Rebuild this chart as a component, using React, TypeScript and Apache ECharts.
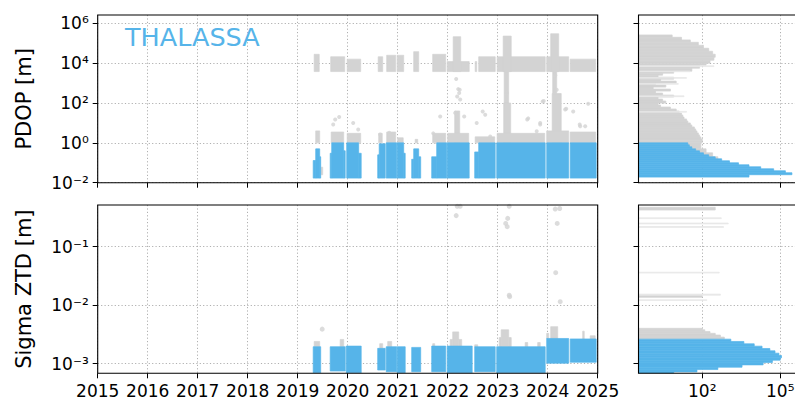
import React, { useEffect, useRef } from "react";
import * as echarts from "echarts";

const BLUE = "#56B4E9";
const GRAY = "#D3D3D3";
const LIGHT = "#E8E8E8";
const FONT = "DejaVu Sans";

// ---------- data ----------
const yearTicks = [2015, 2016, 2017, 2018, 2019, 2020, 2021, 2022, 2023, 2024, 2025];
const pdopTickExps = [-2, 0, 2, 4, 6];
const ztdTickExps = [-3, -2, -1];
const countTickExps = [2, 5];

// PDOP bands: [startYear, endYear, low, high]
const pdopBlueBands = [
  [2019.31, 2019.36, 0.017, 0.13], [2019.36, 2019.44, 0.017, 0.5], [2019.44, 2019.46, 0.017, 0.2],
  [2019.65, 2019.68, 0.017, 0.3], [2019.68, 2019.92, 0.017, 1.0], [2019.92, 2019.95, 0.017, 0.4],
  [2019.98, 2020.22, 0.017, 1.0], [2020.22, 2020.27, 0.017, 0.3],
  [2020.60, 2020.63, 0.017, 0.25], [2020.63, 2020.75, 0.017, 0.9],
  [2020.77, 2020.98, 0.017, 1.0],
  [2020.99, 2021.12, 0.017, 1.0], [2021.12, 2021.15, 0.017, 0.3],
  [2021.28, 2021.32, 0.017, 0.15], [2021.32, 2021.42, 0.017, 0.5], [2021.42, 2021.46, 0.017, 0.2],
  [2021.68, 2021.78, 0.017, 0.2], [2021.78, 2021.98, 0.017, 1.0],
  [2021.99, 2022.43, 0.017, 1.0],
  [2022.54, 2022.62, 0.017, 0.35], [2022.62, 2022.95, 0.017, 1.0],
  [2022.98, 2023.95, 0.017, 1.0],
  [2023.98, 2024.42, 0.017, 1.0],
  [2024.45, 2024.97, 0.017, 1.0],
];
const pdopGrayBands = [
  [2019.33, 2019.43, 3800, 28000], [2019.66, 2019.94, 3800, 21000], [2019.99, 2020.26, 3800, 16000],
  [2020.61, 2020.70, 3800, 21000], [2020.78, 2020.96, 3800, 25000], [2020.99, 2021.12, 3800, 25000],
  [2021.32, 2021.42, 3800, 38000], [2021.70, 2021.96, 3800, 28000], [2021.99, 2022.43, 3800, 12000],
  [2022.11, 2022.26, 3800, 214000], [2022.55, 2022.58, 3800, 12000], [2022.62, 2022.95, 3800, 21000],
  [2022.99, 2023.95, 3800, 21000], [2023.11, 2023.27, 3800, 230000], [2023.98, 2024.42, 3800, 21000],
  [2024.06, 2024.22, 3800, 300000], [2024.45, 2024.96, 3800, 16000],
  [2023.13, 2023.22, 100, 3800], [2023.12, 2023.26, 1, 100],
  [2024.10, 2024.18, 300, 3800], [2024.09, 2024.27, 1, 300],
  [2022.14, 2022.24, 1, 40],
  [2019.36, 2019.44, 1, 4], [2019.67, 2019.92, 1, 3.5], [2019.99, 2020.26, 1, 3],
  [2020.62, 2020.69, 1, 3], [2020.78, 2020.96, 1, 3.5], [2021.0, 2021.11, 1, 1.8],
  [2021.35, 2021.4, 1, 1.5], [2021.70, 2021.96, 1, 3], [2022.0, 2022.42, 1, 3],
  [2022.55, 2022.94, 1, 2], [2022.99, 2023.94, 1, 3], [2023.98, 2024.42, 1, 4],
  [2024.45, 2024.96, 1, 3.5], [2019.47, 2019.50, 0.025, 0.06],
];
// PDOP scattered outliers: [year, value]
const pdopGrayPoints = [
  [2019.71, 8.3], [2019.75, 14.8], [2019.83, 20], [2020.11, 10], [2020.21, 4.7], [2020.65, 2.6],
  [2020.83, 3.2], [2021.85, 21], [2021.71, 3], [2022.21, 500], [2022.23, 316], [2022.17, 1600],
  [2022.25, 150], [2022.15, 32], [2022.33, 21], [2022.75, 26], [2022.58, 10], [2022.85, 2.1],
  [2023.18, 316], [2023.61, 17], [2023.85, 10], [2023.90, 120], [2024.15, 2500], [2024.18, 470],
  [2024.37, 52], [2024.65, 6.8], [2024.81, 93], [2023.78, 3.8], [2022.70, 38], [2023.59, 15],
  [2023.92, 126], [2023.85, 8.3], [2024.35, 47], [2024.51, 38], [2024.75, 6.8], [2024.64, 8.3],
  [2022.24, 470], [2022.19, 214],
];

// Sigma ZTD bands: [startYear, endYear, low, high]
const ztdBlueBands = [
  [2019.31, 2019.46, 7.0e-4, 1.95e-3], [2019.65, 2019.95, 7.5e-4, 1.95e-3], [2019.97, 2020.27, 7.0e-4, 2.0e-3],
  [2020.60, 2020.75, 7.8e-4, 1.83e-3], [2020.77, 2020.98, 7.3e-4, 1.95e-3], [2020.99, 2021.15, 7.0e-4, 1.95e-3],
  [2021.28, 2021.46, 7.3e-4, 1.9e-3], [2021.68, 2021.96, 7.3e-4, 2.0e-3], [2021.99, 2022.49, 7.0e-4, 2.0e-3],
  [2022.54, 2022.95, 7.3e-4, 1.95e-3], [2022.98, 2023.95, 7.0e-4, 1.95e-3],
  [2023.98, 2024.42, 1.02e-3, 2.7e-3], [2024.45, 2024.97, 1.06e-3, 2.65e-3],
];
const ztdGrayBands = [
  [2019.33, 2019.44, 1.95e-3, 2.4e-3], [2019.85, 2019.92, 1.95e-3, 2.6e-3], [2020.64, 2020.70, 1.83e-3, 2.2e-3],
  [2020.80, 2020.88, 1.95e-3, 2.4e-3], [2021.70, 2021.74, 2.0e-3, 2.2e-3],
  [2022.05, 2022.10, 2.0e-3, 2.6e-3], [2022.10, 2022.22, 2.0e-3, 3.5e-3], [2022.22, 2022.28, 2.0e-3, 2.6e-3],
  [2022.54, 2022.60, 1.95e-3, 2.1e-3],
  [2023.03, 2023.07, 1.95e-3, 2.8e-3], [2023.07, 2023.22, 1.95e-3, 3.8e-3], [2023.22, 2023.27, 1.95e-3, 2.8e-3],
  [2023.55, 2023.60, 1.95e-3, 2.3e-3], [2023.80, 2023.85, 1.95e-3, 2.3e-3],
  [2023.98, 2024.02, 2.7e-3, 3.3e-3], [2024.06, 2024.20, 2.7e-3, 4.3e-3],
  [2024.70, 2024.73, 2.65e-3, 3.6e-3], [2024.85, 2024.95, 2.65e-3, 3.0e-3],
];
const ztdGrayPoints = [
  [2019.49, 3.9e-3], [2022.17, 0.34], [2022.19, 0.49], [2022.25, 0.49], [2023.20, 0.305], [2023.16, 0.25],
  [2023.19, 0.22], [2023.23, 0.49], [2023.23, 0.0148], [2023.24, 0.014], [2024.15, 0.44], [2024.24, 0.45],
  [2024.19, 0.25], [2024.16, 0.036], [2024.25, 0.0115],
];

// Histograms: [log10 low edge, log10 high edge, count]
const pdopHistGray = [
  [5.30, 5.42, 7], [5.17, 5.30, 16], [5.05, 5.17, 35], [4.90, 5.05, 71], [4.75, 4.90, 112], [4.60, 4.75, 178],
  [4.45, 4.60, 251], [4.30, 4.45, 316], [4.15, 4.30, 282], [4.00, 4.15, 200], [3.90, 4.00, 141],
  [3.75, 3.90, 79], [3.60, 3.75, 40], [3.50, 3.60, 8], [3.40, 3.50, 3], [3.30, 3.40, 2], [3.20, 3.30, 8],
  [3.10, 3.20, 2.5], [3.00, 3.10, 10], [2.90, 3.00, 1.6], [2.80, 2.90, 4], [2.70, 2.80, 1.3], [2.60, 2.70, 6],
  [2.50, 2.60, 1.6], [2.40, 2.50, 3], [2.30, 2.40, 8], [2.20, 2.30, 2], [2.10, 2.20, 3], [2.00, 2.10, 4],
  [1.90, 2.00, 2], [1.80, 1.90, 2.5], [1.70, 1.80, 6], [1.60, 1.70, 10], [1.50, 1.60, 13], [1.40, 1.50, 16],
  [1.30, 1.40, 18], [1.20, 1.30, 20], [1.10, 1.20, 25], [1.00, 1.10, 28], [0.90, 1.00, 35], [0.80, 0.90, 40],
  [0.70, 0.80, 50], [0.60, 0.70, 56], [0.50, 0.60, 63], [0.40, 0.50, 71], [0.30, 0.40, 79], [0.20, 0.30, 89],
  [0.10, 0.20, 100], [0.00, 0.10, 100], [-0.30, 0.00, 89], [-0.50, -0.30, 141], [-0.70, -0.50, 251],
  [-0.90, -0.70, 400],
];
const pdopHistLight = [
  [3.84, 3.87, 282], [3.58, 3.61, 35], [3.25, 3.28, 25], [2.95, 2.98, 12], [2.33, 2.36, 20], [1.55, 1.58, 25],
];
const pdopHistBlue = [
  [-0.1, 0.0, 28], [-0.2, -0.1, 32], [-0.3, -0.2, 40], [-0.4, -0.3, 56], [-0.5, -0.4, 79], [-0.6, -0.5, 112],
  [-0.7, -0.6, 178], [-0.8, -0.7, 316], [-0.9, -0.8, 560], [-1.0, -0.9, 1120], [-1.1, -1.0, 2500],
  [-1.2, -1.1, 6300], [-1.3, -1.2, 17800], [-1.4, -1.3, 56000], [-1.5, -1.4, 158000], [-1.6, -1.5, 282000],
  [-1.72, -1.6, 6300],
];
const ztdHistGray = [
  [-0.373, -0.326, 316], [-1.865, -1.83, 100], [-2.42, -2.395, 100], [-2.45, -2.42, 126], [-2.48, -2.45, 200],
  [-2.51, -2.48, 316], [-2.545, -2.51, 500], [-2.58, -2.545, 710],
];
const ztdHistLight = [
  [-0.52, -0.505, 540], [-0.61, -0.595, 1000], [-0.67, -0.655, 660], [-1.45, -1.435, 450],
  [-1.83, -1.81, 500], [-1.92, -1.905, 150],
];
const ztdHistBlue = [
  [-2.62, -2.58, 1260], [-2.66, -2.62, 4000], [-2.70, -2.66, 10000], [-2.74, -2.70, 20000],
  [-2.78, -2.74, 40000], [-2.82, -2.78, 63000], [-2.86, -2.82, 89000], [-2.90, -2.86, 112000],
  [-2.94, -2.90, 100000], [-2.98, -2.94, 50000], [-3.02, -2.98, 22000], [-3.06, -3.02, 3400],
  [-3.10, -3.06, 400], [-3.14, -3.10, 63], [-3.17, -3.14, 8],
];

// ---------- layout ----------
const L = 97.7, R = 597.7, HL = 638.5, HR = 800;
const T1 = 15, B1 = 182.7, T2 = 205, B2 = 373.3;
const PDOP_MIN = -2, PDOP_MAX = 6.42;
const ZTD_MIN = -3.164, ZTD_MAX = -0.287;
const HMIN = -0.45, HMAX = 5.76;

const SUP: Record<string, string> = {
  "0": "⁰", "1": "¹", "2": "²", "3": "³", "4": "⁴", "5": "⁵", "6": "⁶", "7": "⁷", "8": "⁸", "9": "⁹", "-": "⁻",
};
const expLabel = (v: number) =>
  "10" + String(Math.round(v)).split("").map((c) => SUP[c] ?? c).join("");

const lg = (v: number) => Math.log10(v);

function rectSeries(data: number[][], color: string, idx: number, z = 2) {
  return {
    type: "custom",
    xAxisIndex: idx,
    yAxisIndex: idx,
    z,
    clip: true,
    encode: { x: [0, 1], y: [2, 3] },
    data,
    renderItem: (_p: any, api: any) => {
      const a = api.coord([api.value(0), api.value(2)]);
      const b = api.coord([api.value(1), api.value(3)]);
      return {
        type: "rect",
        shape: { x: a[0], y: b[1], width: Math.max(b[0] - a[0], 1), height: Math.max(a[1] - b[1], 0.8) },
        style: { fill: color, stroke: color, lineWidth: 0.7 },
      };
    },
  };
}

const bands = (arr: number[][]) => arr.map((d) => [d[0], d[1], lg(d[2]), lg(d[3])]);
const hist = (arr: number[][]) => arr.map((d) => [HMIN, lg(d[2]), d[0], d[1]]);
const pts = (arr: number[][]) => arr.map((d) => [d[0], lg(d[1])]);

const splitLine = { show: true, lineStyle: { color: "#b0b0b0", width: 1, type: [1.2, 2.2] } };
const axisLine = { show: false, onZero: false };
const tick = (customValues?: number[]) => ({
  show: true,
  length: 5,
  lineStyle: { color: "#000", width: 1 },
  ...(customValues ? { customValues } : {}),
});
const labelBase = { fontFamily: FONT, fontSize: 17, color: "#000" };

export default function App() {
  const ref = useRef<HTMLDivElement>(null);
  useEffect(() => {
    if (!ref.current) return;
    const chart = echarts.init(ref.current, undefined, { renderer: "svg" });
    const option: any = {
      animation: false,
      backgroundColor: "#fff",
      textStyle: { fontFamily: FONT },
      title: {
        text: "THALASSA",
        left: 120,
        top: 19,
        textStyle: { fontFamily: FONT, fontSize: 25.5, fontWeight: "normal", color: BLUE },
      },
      grid: [
        { left: L, top: T1, width: R - L, height: B1 - T1 },
        { left: HL, top: T1, width: HR - HL, height: B1 - T1 },
        { left: L, top: T2, width: R - L, height: B2 - T2 },
        { left: HL, top: T2, width: HR - HL, height: B2 - T2 },
      ],
      xAxis: [
        {
          gridIndex: 0, type: "value", min: yearTicks[0], max: yearTicks[yearTicks.length - 1], interval: 1,
          axisLine, axisTick: tick(), axisLabel: { show: false }, splitLine,
        },
        {
          gridIndex: 1, type: "value", min: HMIN, max: HMAX,
          axisLine, axisTick: tick(countTickExps),
          axisLabel: { show: false, customValues: countTickExps }, splitLine,
        },
        {
          gridIndex: 2, type: "value", min: yearTicks[0], max: yearTicks[yearTicks.length - 1], interval: 1,
          axisLine, axisTick: tick(),
          axisLabel: { ...labelBase, margin: 9, formatter: (v: number) => String(Math.round(v)) }, splitLine,
        },
        {
          gridIndex: 3, type: "value", min: HMIN, max: HMAX,
          axisLine, axisTick: tick(countTickExps),
          axisLabel: { ...labelBase, margin: 9, customValues: countTickExps, formatter: expLabel }, splitLine,
        },
      ],
      yAxis: [
        {
          gridIndex: 0, type: "value", min: PDOP_MIN, max: PDOP_MAX,
          axisLine, axisTick: tick(pdopTickExps),
          axisLabel: { ...labelBase, margin: 9, customValues: pdopTickExps, formatter: expLabel }, splitLine,
        },
        {
          gridIndex: 1, type: "value", min: PDOP_MIN, max: PDOP_MAX,
          axisLine, axisTick: tick(pdopTickExps),
          axisLabel: { show: false, customValues: pdopTickExps }, splitLine,
        },
        {
          gridIndex: 2, type: "value", min: ZTD_MIN, max: ZTD_MAX,
          axisLine, axisTick: tick(ztdTickExps),
          axisLabel: { ...labelBase, margin: 9, customValues: ztdTickExps, formatter: expLabel }, splitLine,
        },
        {
          gridIndex: 3, type: "value", min: ZTD_MIN, max: ZTD_MAX,
          axisLine, axisTick: tick(ztdTickExps),
          axisLabel: { show: false, customValues: ztdTickExps }, splitLine,
        },
      ],
      graphic: [
        {
          type: "text", x: 24, y: (T1 + B1) / 2, rotation: Math.PI / 2,
          style: { text: "PDOP [m]", font: `21px ${FONT}`, fill: "#000", align: "center", verticalAlign: "middle" },
        },
        {
          type: "text", x: 24, y: (T2 + B2) / 2, rotation: Math.PI / 2,
          style: { text: "Sigma ZTD [m]", font: `21px ${FONT}`, fill: "#000", align: "center", verticalAlign: "middle" },
        },
        ...[[L, T1, R - L, B1 - T1], [HL, T1, HR - HL, B1 - T1], [L, T2, R - L, B2 - T2], [HL, T2, HR - HL, B2 - T2]].map(
          (g) => ({
            type: "rect", z: 100, silent: true,
            shape: { x: g[0], y: g[1], width: g[2], height: g[3] },
            style: { fill: "none", stroke: "#000", lineWidth: 1.1 },
          })
        ),
      ],
      series: [
        rectSeries(bands(pdopGrayBands), GRAY, 0),
        rectSeries(bands(pdopBlueBands), BLUE, 0, 3),
        { type: "scatter", xAxisIndex: 0, yAxisIndex: 0, symbolSize: 4, z: 4, itemStyle: { color: GRAY }, data: pts(pdopGrayPoints) },
        rectSeries(hist(pdopHistGray), GRAY, 1),
        rectSeries(hist(pdopHistLight), LIGHT, 1),
        rectSeries(hist(pdopHistBlue), BLUE, 1, 3),
        rectSeries(bands(ztdGrayBands), GRAY, 2),
        rectSeries(bands(ztdBlueBands), BLUE, 2, 3),
        { type: "scatter", xAxisIndex: 2, yAxisIndex: 2, symbolSize: 5, z: 4, itemStyle: { color: GRAY }, data: pts(ztdGrayPoints) },
        rectSeries(hist(ztdHistGray), GRAY, 3),
        rectSeries(hist(ztdHistLight), LIGHT, 3),
        rectSeries(hist(ztdHistBlue), BLUE, 3, 3),
      ],
    };
    chart.setOption(option);
    return () => chart.dispose();
  }, []);
  return (
    <div style={{ position: "absolute", left: 0, top: 0, width: 795, height: 403, overflow: "hidden", background: "#fff" }}>
      <div ref={ref} style={{ width: 810, height: 403 }} />
    </div>
  );
}
